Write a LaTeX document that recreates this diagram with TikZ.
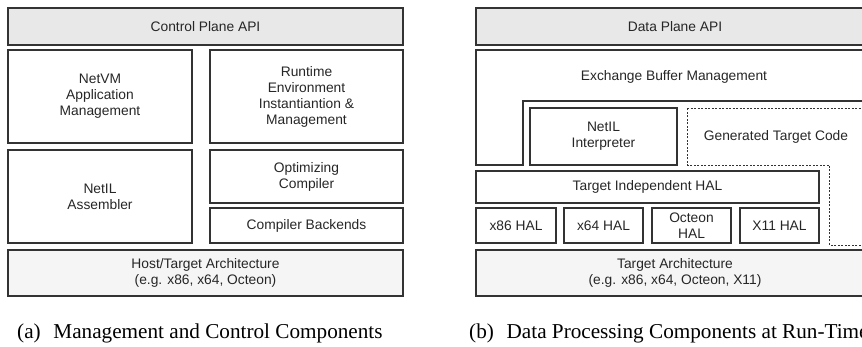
\documentclass[tikz,border=0pt]{standalone}
\usepackage{fontspec}
\setmainfont{Liberation Serif}
\newfontfamily\boxfont{Liberation Sans}
\usepackage{tikz}

\begin{document}
\begin{tikzpicture}[x=1pt, y=-1pt,
    blk/.style={draw=black!80, line width=1.1pt, inner sep=0pt, align=center,
                text=black!85, font=\boxfont\fontsize{13.8}{16}\selectfont},
    apibox/.style={blk, fill=black!9},
    archbox/.style={blk, fill=black!4},
    subcap/.style={anchor=base west, inner sep=0pt, font=\fontsize{21.2}{25}\selectfont}]
            \path[use as bounding box, clip] (0,0) rectangle (862,347);

            % (a) management and control
            \node[apibox, minimum width=395, minimum height=37] (cpapi) at (205.5,26.5) {Control Plane API};
            \node[blk, minimum width=184, minimum height=93] (netvm) at (100,96.5) {NetVM\\Application\\Management};
            \node[blk, minimum width=193, minimum height=93] (runtime) at (306.5,96.5) {Runtime\\Environment\\Instantiantion \&\\Management};
            \node[blk, minimum width=184, minimum height=93] (assembler) at (100,196.5) {NetIL\\Assembler};
            \node[blk, minimum width=193, minimum height=53] (optcomp) at (306.5,176.5) {Optimizing\\Compiler};
            \node[blk, minimum width=193, minimum height=35] (backends) at (306.5,225.5) {Compiler Backends};
            \node[archbox, minimum width=395, minimum height=46] (hostarch) at (205.5,273) {Host/Target Architecture\\(e.g. x86, x64, Octeon)};
            \node[subcap] (capa) at (17,338) {(a)\hspace{0.6em}Management and Control Components};

            % (b) data processing
            \node[apibox, minimum width=398, minimum height=37] (dpapi) at (675,26.5) {Data Plane API};
            \draw[draw=black!80, line width=1.1pt] (476,50) -- (874,50) -- (874,101) -- (523,101) -- (523,165) -- (476,165) -- cycle;
            \node[blk, draw=none] (xbuf) at (674,77) {Exchange Buffer Management};
            \node[blk, minimum width=147, minimum height=57] (interp) at (603.5,136.5) {NetIL\\Interpreter};
            \draw[draw=black!80, line width=0.9pt, dashed, dash pattern=on 2pt off 1.5pt] (687,108) -- (868,108) -- (868,245) -- (829,245) -- (829,165) -- (687,165) -- cycle;
            \node[blk, draw=none] (gencode) at (776,136.5) {Generated Target Code};
            \node[blk, minimum width=343, minimum height=32] (tihal) at (647.5,187) {Target Independent HAL};
            \node[blk, minimum width=80, minimum height=35] (halx86) at (516,225.5) {x86 HAL};
            \node[blk, minimum width=79, minimum height=35] (halx64) at (603.5,225.5) {x64 HAL};
            \node[blk, minimum width=79, minimum height=35] (haloct) at (691.5,225.5) {Octeon\\HAL};
            \node[blk, minimum width=79, minimum height=35] (halx11) at (779.5,225.5) {X11 HAL};
            \node[archbox, minimum width=398, minimum height=46] (tarch) at (675,273) {Target Architecture\\(e.g. x86, x64, Octeon, X11)};
            \node[subcap] (capb) at (469,338) {(b)\hspace{0.6em}Data Processing Components at Run-Time};
        \end{tikzpicture}
\end{document}
